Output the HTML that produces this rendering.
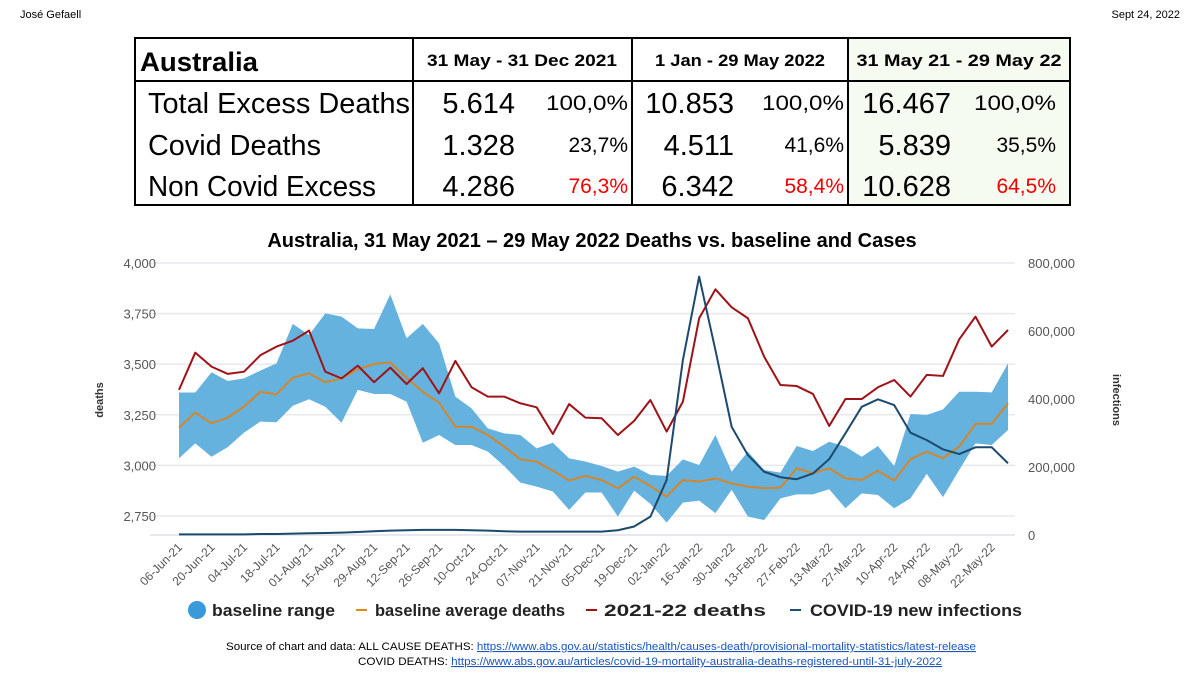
<!DOCTYPE html>
<html><head><meta charset="utf-8"><style>
body{margin:0;background:#fff;width:1200px;height:675px;overflow:hidden;font-family:"Liberation Sans",sans-serif}
svg{display:block}
</style></head><body>
<svg id="s" width="1200" height="675" xmlns="http://www.w3.org/2000/svg">
<text x="20" y="18" font-size="11">José Gefaell</text>
<text x="1180" y="18" font-size="11" text-anchor="end">Sept 24, 2022</text>
<g font-family="Liberation Sans, sans-serif">
<rect x="848" y="38" width="222" height="167" fill="#f5fbf0"/>
<rect x="135" y="38" width="935" height="167" fill="none" stroke="#000" stroke-width="2"/>
<line x1="413" y1="38" x2="413" y2="205" stroke="#000" stroke-width="2"/>
<line x1="632" y1="38" x2="632" y2="205" stroke="#000" stroke-width="2"/>
<line x1="848" y1="38" x2="848" y2="205" stroke="#000" stroke-width="2"/>
<line x1="135" y1="81" x2="1070" y2="81" stroke="#000" stroke-width="2"/>
<text x="140" y="71" font-size="27" font-weight="bold" textLength="118" lengthAdjust="spacingAndGlyphs">Australia</text>
<text x="522" y="66" font-size="17" font-weight="bold" text-anchor="middle" textLength="190" lengthAdjust="spacingAndGlyphs">31 May - 31 Dec 2021</text>
<text x="740" y="66" font-size="17" font-weight="bold" text-anchor="middle" textLength="170" lengthAdjust="spacingAndGlyphs">1 Jan - 29 May 2022</text>
<text x="959" y="66" font-size="17" font-weight="bold" text-anchor="middle" textLength="205" lengthAdjust="spacingAndGlyphs">31 May 21 - 29 May 22</text>
<g font-size="29">
<text x="148" y="113" textLength="262" lengthAdjust="spacingAndGlyphs">Total Excess Deaths</text>
<text x="148" y="155" textLength="173" lengthAdjust="spacingAndGlyphs">Covid Deaths</text>
<text x="148" y="196" textLength="228" lengthAdjust="spacingAndGlyphs">Non Covid Excess</text>
<g text-anchor="end">
<text x="515" y="113">5.614</text><text x="515" y="155">1.328</text><text x="515" y="196">4.286</text>
<text x="734" y="113">10.853</text><text x="734" y="155">4.511</text><text x="734" y="196">6.342</text>
<text x="951" y="113">16.467</text><text x="951" y="155">5.839</text><text x="951" y="196">10.628</text>
</g>
<g text-anchor="end" font-size="21">
<text x="628" y="110" textLength="82" lengthAdjust="spacingAndGlyphs">100,0%</text><text x="628" y="152">23,7%</text><text x="628" y="193" fill="#e00">76,3%</text>
<text x="844" y="110" textLength="82" lengthAdjust="spacingAndGlyphs">100,0%</text><text x="844" y="152">41,6%</text><text x="844" y="193" fill="#e00">58,4%</text>
<text x="1056" y="110" textLength="82" lengthAdjust="spacingAndGlyphs">100,0%</text><text x="1056" y="152">35,5%</text><text x="1056" y="193" fill="#e00">64,5%</text>
</g></g></g>
<text x="592" y="247" font-size="20" font-weight="bold" text-anchor="middle">Australia, 31 May 2021 – 29 May 2022 Deaths vs. baseline and Cases</text>
<g id="chart"></g>
<g font-size="17" font-weight="bold" fill="#222">
<circle cx="197" cy="610" r="9" fill="#3a9ad9"/>
<text x="212" y="616" textLength="123" lengthAdjust="spacingAndGlyphs">baseline range</text>
<line x1="356" y1="610" x2="367" y2="610" stroke="#e08a1e" stroke-width="2"/>
<text x="375" y="616" textLength="190" lengthAdjust="spacingAndGlyphs">baseline average deaths</text>
<line x1="586" y1="610" x2="597" y2="610" stroke="#a01010" stroke-width="2"/>
<text x="604" y="616" textLength="162" lengthAdjust="spacingAndGlyphs">2021-22 deaths</text>
<line x1="790" y1="610" x2="801" y2="610" stroke="#1f4e79" stroke-width="2"/>
<text x="810" y="616" textLength="212" lengthAdjust="spacingAndGlyphs">COVID-19 new infections</text>
</g>
<g font-size="11" font-family="Liberation Sans, sans-serif">
<text x="226" y="650" textLength="750" lengthAdjust="spacingAndGlyphs">Source of chart and data:  ALL CAUSE DEATHS: <tspan fill="#1a55c0" text-decoration="underline">https://www.abs.gov.au/statistics/health/causes-death/provisional-mortality-statistics/latest-release</tspan></text>
<text x="358" y="665" textLength="584" lengthAdjust="spacingAndGlyphs">COVID DEATHS:  <tspan fill="#1a55c0" text-decoration="underline">https://www.abs.gov.au/articles/covid-19-mortality-australia-deaths-registered-until-31-july-2022</tspan></text>
</g>
</svg>
<script>
const xLabels=["06-Jun-21","20-Jun-21","04-Jul-21","18-Jul-21","01-Aug-21","15-Aug-21","29-Aug-21","12-Sep-21","26-Sep-21","10-Oct-21","24-Oct-21","07-Nov-21","21-Nov-21","05-Dec-21","19-Dec-21","02-Jan-22","16-Jan-22","30-Jan-22","13-Feb-22","27-Feb-22","13-Mar-22","27-Mar-22","10-Apr-22","24-Apr-22","08-May-22","22-May-22"];
const leftTicks=[2750,3000,3250,3500,3750,4000];
const rightTicks=[0,200000,400000,600000,800000];
const deaths=[3373,3557,3488,3452,3463,3544,3587,3616,3666,3463,3430,3493,3411,3483,3402,3480,3356,3516,3386,3340,3340,3307,3287,3155,3303,3236,3233,3150,3220,3323,3167,3315,3727,3870,3781,3727,3537,3397,3392,3353,3195,3328,3328,3386,3422,3340,3447,3442,3623,3735,3587,3669];
const baselineAvg=[3187,3261,3208,3236,3290,3364,3351,3433,3455,3411,3430,3475,3501,3509,3433,3364,3310,3191,3191,3150,3093,3030,3019,2974,2925,2948,2928,2887,2944,2898,2846,2928,2920,2936,2911,2895,2887,2890,2986,2961,2986,2936,2928,2974,2925,3030,3068,3035,3093,3205,3205,3307];
const baselineHigh=[3360,3360,3460,3417,3430,3468,3504,3699,3644,3751,3735,3677,3674,3845,3628,3699,3603,3340,3282,3183,3158,3150,3084,3112,3035,3019,2997,2969,2994,2953,2948,3030,3002,3150,2969,3068,2977,2964,3096,3071,3117,3093,3043,3096,2997,3254,3249,3277,3364,3364,3361,3504];
const baselineLow=[3035,3109,3043,3090,3162,3216,3213,3295,3327,3290,3211,3373,3353,3353,3315,3112,3150,3101,3101,3068,2997,2915,2895,2871,2780,2866,2866,2747,2875,2810,2717,2816,2826,2764,2879,2747,2730,2837,2857,2857,2882,2788,2862,2854,2788,2837,2958,2843,2977,3109,3101,3175];
const infections=[2000,2000,2000,2000,2000,3000,3000,4000,5000,6000,7000,9000,11000,13000,14000,15000,15000,15000,14000,13000,11000,10000,10000,10000,10000,10000,10000,14000,25000,54000,162000,515000,760000,544000,318000,235000,186000,170000,164000,181000,223000,299000,377000,399000,382000,301000,279000,252000,238000,258000,258000,211000];

const NS="http://www.w3.org/2000/svg";
const g=document.getElementById('chart');
const X0=179,X1=1008,N=deaths.length;
const xs=i=>X0+(X1-X0)*i/(N-1);
const yL=v=>263+(4000-v)*(516-263)/1250;
const yR=v=>535-v*(535-263)/800000;
function mk(t,a){const e=document.createElementNS(NS,t);for(const k in a)e.setAttribute(k,a[k]);g.appendChild(e);return e;}
leftTicks.forEach(v=>{
 const l=mk('line',{x1:150,x2:1015,y1:yL(v),y2:yL(v),stroke:'#e6e8ee','stroke-width':1.5});
 
 
 const t=mk('text',{x:156,y:yL(v)+5,'font-size':13,fill:'#555','text-anchor':'end'});t.textContent=v.toLocaleString('en-US');
 
 
});
const base=mk('line',{x1:150,x2:1015,y1:535,y2:535,stroke:'#dde0e8','stroke-width':1.5});


rightTicks.forEach(v=>{
 const t=mk('text',{x:1028,y:yR(v)+5,'font-size':13,fill:'#555'});t.textContent=v.toLocaleString('en-US');
 
 
});
const yt=mk('text',{x:0,y:0,'font-size':11,'font-weight':'bold',fill:'#333','text-anchor':'middle',transform:'translate(103,400) rotate(-90)'});yt.textContent='deaths';


const yt2=mk('text',{x:0,y:0,'font-size':11,'font-weight':'bold',fill:'#333','text-anchor':'middle',transform:'translate(1113,400) rotate(90)'});yt2.textContent='infections';


let pts=baselineHigh.map((v,i)=>xs(i)+','+yL(v));
for(let i=N-1;i>=0;i--)pts.push(xs(i)+','+yL(baselineLow[i]));
const band=mk('polygon',{points:pts.join(' '),fill:'#66b2df'});


function line(arr,f,col,name){
 const p=mk('polyline',{points:arr.map((v,i)=>xs(i)+','+f(v)).join(' '),fill:'none',stroke:col,'stroke-width':2,'stroke-linejoin':'round'});
 
 
}
line(baselineAvg,yL,'#d4862a','baseline-average-line');
line(deaths,yL,'#9e1318','deaths-line');
line(infections,yR,'#1c4a6e','infections-line');
xLabels.forEach((s,k)=>{
 const x=xs(k*2);
 const t=mk('text',{x:0,y:0,'font-size':12,fill:'#555','text-anchor':'end',transform:`translate(${x+4},${548}) rotate(-45)`});t.textContent=s;
 
 
});
</script>
</body></html>
